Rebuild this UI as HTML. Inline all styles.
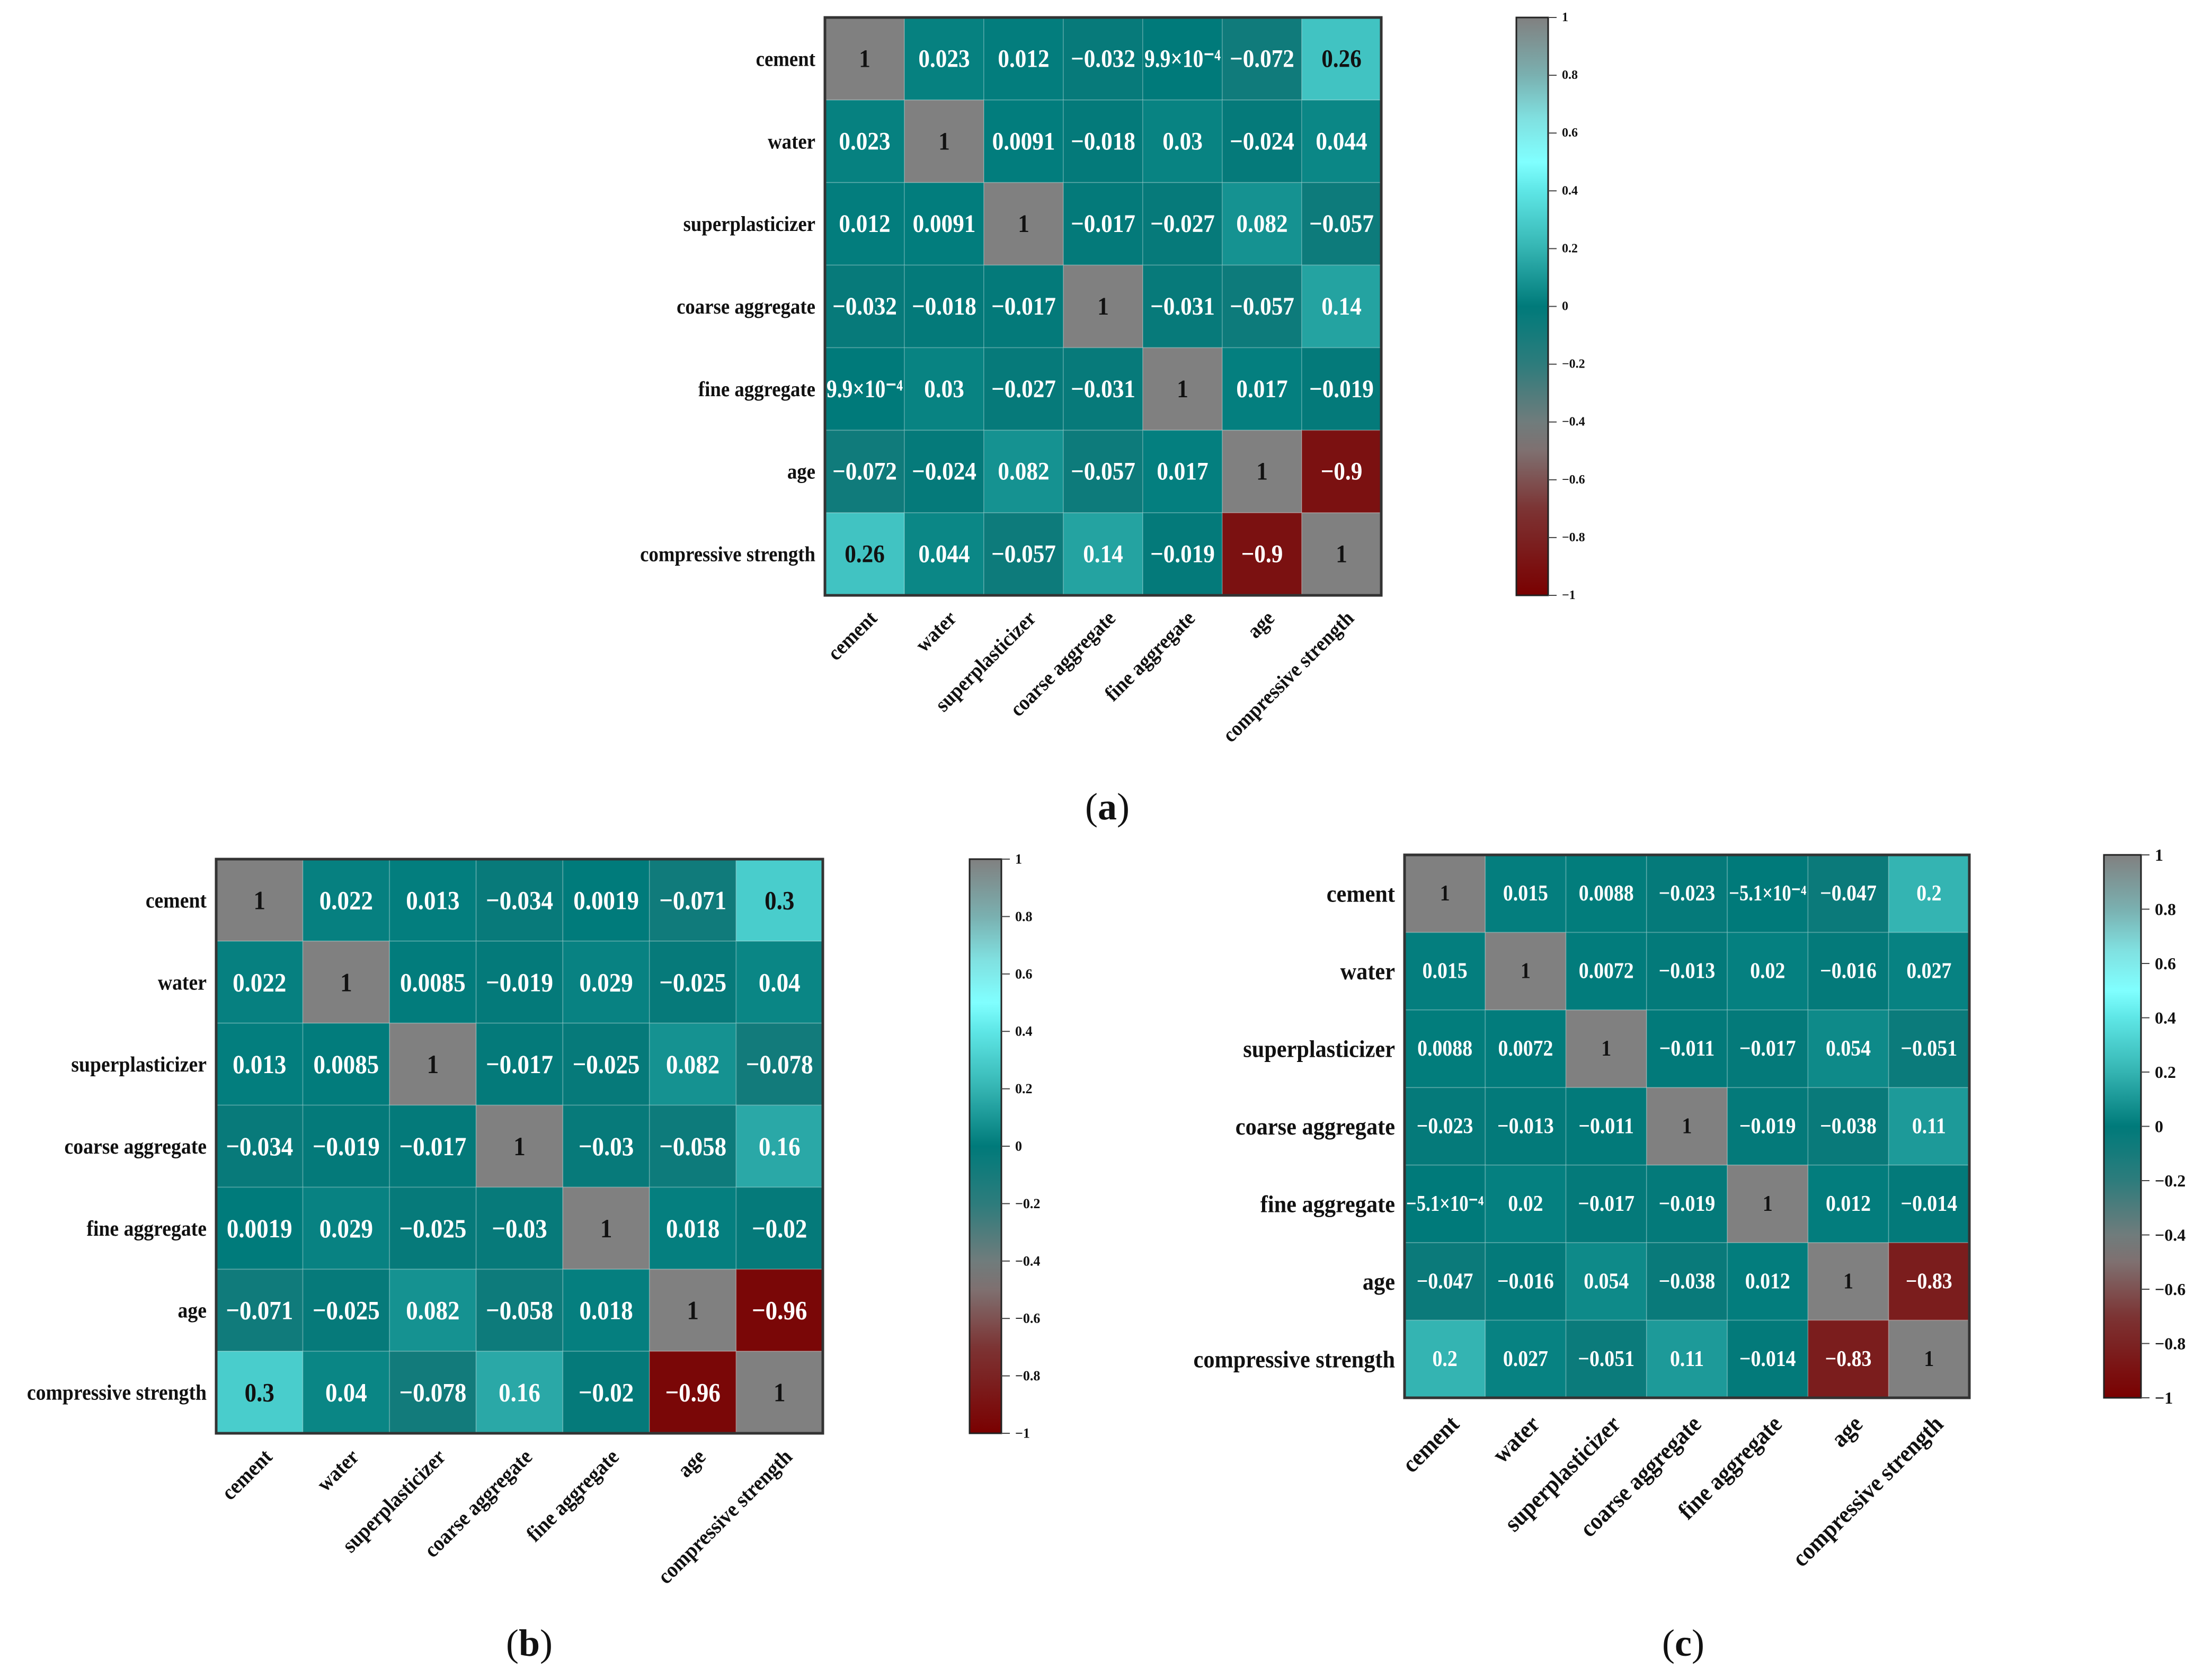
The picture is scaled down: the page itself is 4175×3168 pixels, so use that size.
<!DOCTYPE html>
<html><head><meta charset="utf-8">
<style>
html,body{margin:0;padding:0;background:#fff;}
svg{display:block;font-family:"Liberation Serif",serif;font-weight:bold;}
</style></head>
<body>
<svg id="fig" width="4175" height="3168" viewBox="0 0 4175 3168" xmlns="http://www.w3.org/2000/svg"></svg>
<script>
const variables = ["cement","water","superplasticizer","coarse aggregate","fine aggregate","age","compressive strength"];
const matrixA = [
 [1,0.023,0.012,-0.032,9.9e-4,-0.072,0.26],
 [0.023,1,0.0091,-0.018,0.03,-0.024,0.044],
 [0.012,0.0091,1,-0.017,-0.027,0.082,-0.057],
 [-0.032,-0.018,-0.017,1,-0.031,-0.057,0.14],
 [9.9e-4,0.03,-0.027,-0.031,1,0.017,-0.019],
 [-0.072,-0.024,0.082,-0.057,0.017,1,-0.9],
 [0.26,0.044,-0.057,0.14,-0.019,-0.9,1]];
const matrixB = [
 [1,0.022,0.013,-0.034,0.0019,-0.071,0.3],
 [0.022,1,0.0085,-0.019,0.029,-0.025,0.04],
 [0.013,0.0085,1,-0.017,-0.025,0.082,-0.078],
 [-0.034,-0.019,-0.017,1,-0.03,-0.058,0.16],
 [0.0019,0.029,-0.025,-0.03,1,0.018,-0.02],
 [-0.071,-0.025,0.082,-0.058,0.018,1,-0.96],
 [0.3,0.04,-0.078,0.16,-0.02,-0.96,1]];
const matrixC = [
 [1,0.015,0.0088,-0.023,-5.1e-4,-0.047,0.2],
 [0.015,1,0.0072,-0.013,0.02,-0.016,0.027],
 [0.0088,0.0072,1,-0.011,-0.017,0.054,-0.051],
 [-0.023,-0.013,-0.011,1,-0.019,-0.038,0.11],
 [-5.1e-4,0.02,-0.017,-0.019,1,0.012,-0.014],
 [-0.047,-0.016,0.054,-0.038,0.012,1,-0.83],
 [0.2,0.027,-0.051,0.11,-0.014,-0.83,1]];
const colorbarTicks = [1,0.8,0.6,0.4,0.2,0,-0.2,-0.4,-0.6,-0.8,-1];
const panelLetters = ["a","b","c"];

const NS="http://www.w3.org/2000/svg";
const svg=document.getElementById('fig');
const stops=[[-1,[122,0,0]],[-0.7,[124,52,52]],[-0.5,[127,112,112]],[-0.4,[112,124,124]],[-0.2,[45,124,124]],[0,[0,122,122]],[0.2,[52,180,178]],[0.4,[94,230,230]],[0.5,[128,255,255]],[0.65,[128,224,224]],[0.8,[122,176,176]],[1,[128,128,128]]];
function cmap(v){
  v=Math.max(-1,Math.min(1,v));
  for(let i=0;i<stops.length-1;i++){
    const a=stops[i],b=stops[i+1];
    if(v>=a[0]&&v<=b[0]){const t=(v-a[0])/(b[0]-a[0]);
      const c=a[1].map((x,k)=>Math.round(x+(b[1][k]-x)*t));return `rgb(${c[0]},${c[1]},${c[2]})`;}
  }
  return 'rgb(128,128,128)';
}
function fmt(v){
  if(v===0) return "0";
  if(v===1) return "1";
  const s=v<0?"\u2212":"";
  const a=Math.abs(v);
  if(a<0.001){const e=Math.floor(Math.log10(a));const m=+(a/Math.pow(10,e)).toFixed(1);
    const sup={"-":"\u207B","4":"\u2074","5":"\u2075","3":"\u00B3"};
    return s+m+"\u00D710"+String(e).split('').map(c=>sup[c]||c).join('');}
  return s+String(a);
}
function el(tag,attrs,parent){const e=document.createElementNS(NS,tag);for(const k in attrs)e.setAttribute(k,attrs[k]);(parent||svg).appendChild(e);return e;}
function squeeze(t,factor){const w=t.getComputedTextLength();t.setAttribute('textLength',w*factor);t.setAttribute('lengthAdjust','spacingAndGlyphs');}

function drawPanel(cfg){
  const g=el('g',{});
  
  
  const n=variables.length, cw=(cfg.x1-cfg.x0)/n, ch=(cfg.y1-cfg.y0)/n;
  const xs=i=>cfg.x0+i*cw, ys=j=>cfg.y0+j*ch;
  cfg.m.forEach((row,j)=>row.forEach((v,i)=>{
    const r=el('rect',{x:xs(i),y:ys(j),width:cw,height:ch,fill:cmap(v),stroke:'rgba(255,255,255,0.18)','stroke-width':2},g);
    
    
    const t=el('text',{x:xs(i)+cw/2,y:ys(j)+ch/2,'text-anchor':'middle','dominant-baseline':'central','font-size':cfg.cellFont,fill:(v>0.25||v===1)?'#111':'#fff'},g);
    t.textContent=fmt(v);
    
    
    const w=t.getComputedTextLength()*0.9;
    t.setAttribute('textLength',Math.min(w,cw*0.96));t.setAttribute('lengthAdjust','spacingAndGlyphs');
  }));
  el('rect',{x:cfg.x0,y:cfg.y0,width:cfg.x1-cfg.x0,height:cfg.y1-cfg.y0,fill:'none',stroke:'#333','stroke-width':5},g);
  variables.forEach((name,j)=>{
    const t=el('text',{x:cfg.x0-18,y:ys(j)+ch/2,'text-anchor':'end','dominant-baseline':'central','font-size':cfg.labelFont,fill:'#111'},g);
    t.textContent=name;
    
    
    squeeze(t,0.92);
    const lx=xs(j)+cw/2+cfg.labelFont*0.4, ly=cfg.y1+cfg.labelFont*0.9;
    const u=el('text',{x:lx,y:ly,'text-anchor':'end','dominant-baseline':'central','font-size':cfg.labelFont,fill:'#111',transform:`rotate(-45 ${lx} ${ly})`},g);
    u.textContent=name;
    
    
    squeeze(u,0.92);
  });
  const cb=el('g',{},g);
  
  
  const gid='grad'+cfg.letter;
  const lg=el('linearGradient',{id:gid,x1:0,y1:1,x2:0,y2:0},el('defs',{},cb));
  for(let k=0;k<=40;k++){const v=-1+k/20;el('stop',{offset:(k/40),'stop-color':cmap(v)},lg);}
  el('rect',{x:cfg.cbx,y:cfg.y0,width:cfg.cbw,height:cfg.cbh,fill:`url(#${gid})`,stroke:'#222','stroke-width':3},cb);
  const vy=v=>cfg.y0+(1-v)/2*cfg.cbh;
  colorbarTicks.forEach(v=>{
    el('line',{x1:cfg.cbx+cfg.cbw,x2:cfg.cbx+cfg.cbw+16,y1:vy(v),y2:vy(v),stroke:'#444','stroke-width':2},cb);
    const t=el('text',{x:cfg.cbx+cfg.cbw+26,y:vy(v),'dominant-baseline':'central','font-size':cfg.tickFont,fill:'#111'},cb);
    t.textContent=fmt(v);
    
    
  });
  const cap=el('text',{x:cfg.capx,y:cfg.capy,'text-anchor':'middle','dominant-baseline':'central','font-size':72,'font-weight':'normal',fill:'#111'},g);
  cap.innerHTML='(<tspan font-weight="bold">'+cfg.letter+'</tspan>)';
  
  
}
drawPanel({letter:panelLetters[0],m:matrixA,x0:1557,x1:2607,y0:33,y1:1124,cellFont:48,labelFont:40,cbx:2862,cbw:60,cbh:1091,tickFont:24,capx:2090,capy:1523});
drawPanel({letter:panelLetters[1],m:matrixB,x0:408,x1:1553,y0:1622,y1:2706,cellFont:50,labelFont:41,cbx:1830,cbw:60,cbh:1084,tickFont:26,capx:999,capy:3102});
drawPanel({letter:panelLetters[2],m:matrixC,x0:2651,x1:3717,y0:1614,y1:2639,cellFont:42,labelFont:46,cbx:3971,cbw:70,cbh:1025,tickFont:32,capx:3177,capy:3102});
</script>
</body></html>
